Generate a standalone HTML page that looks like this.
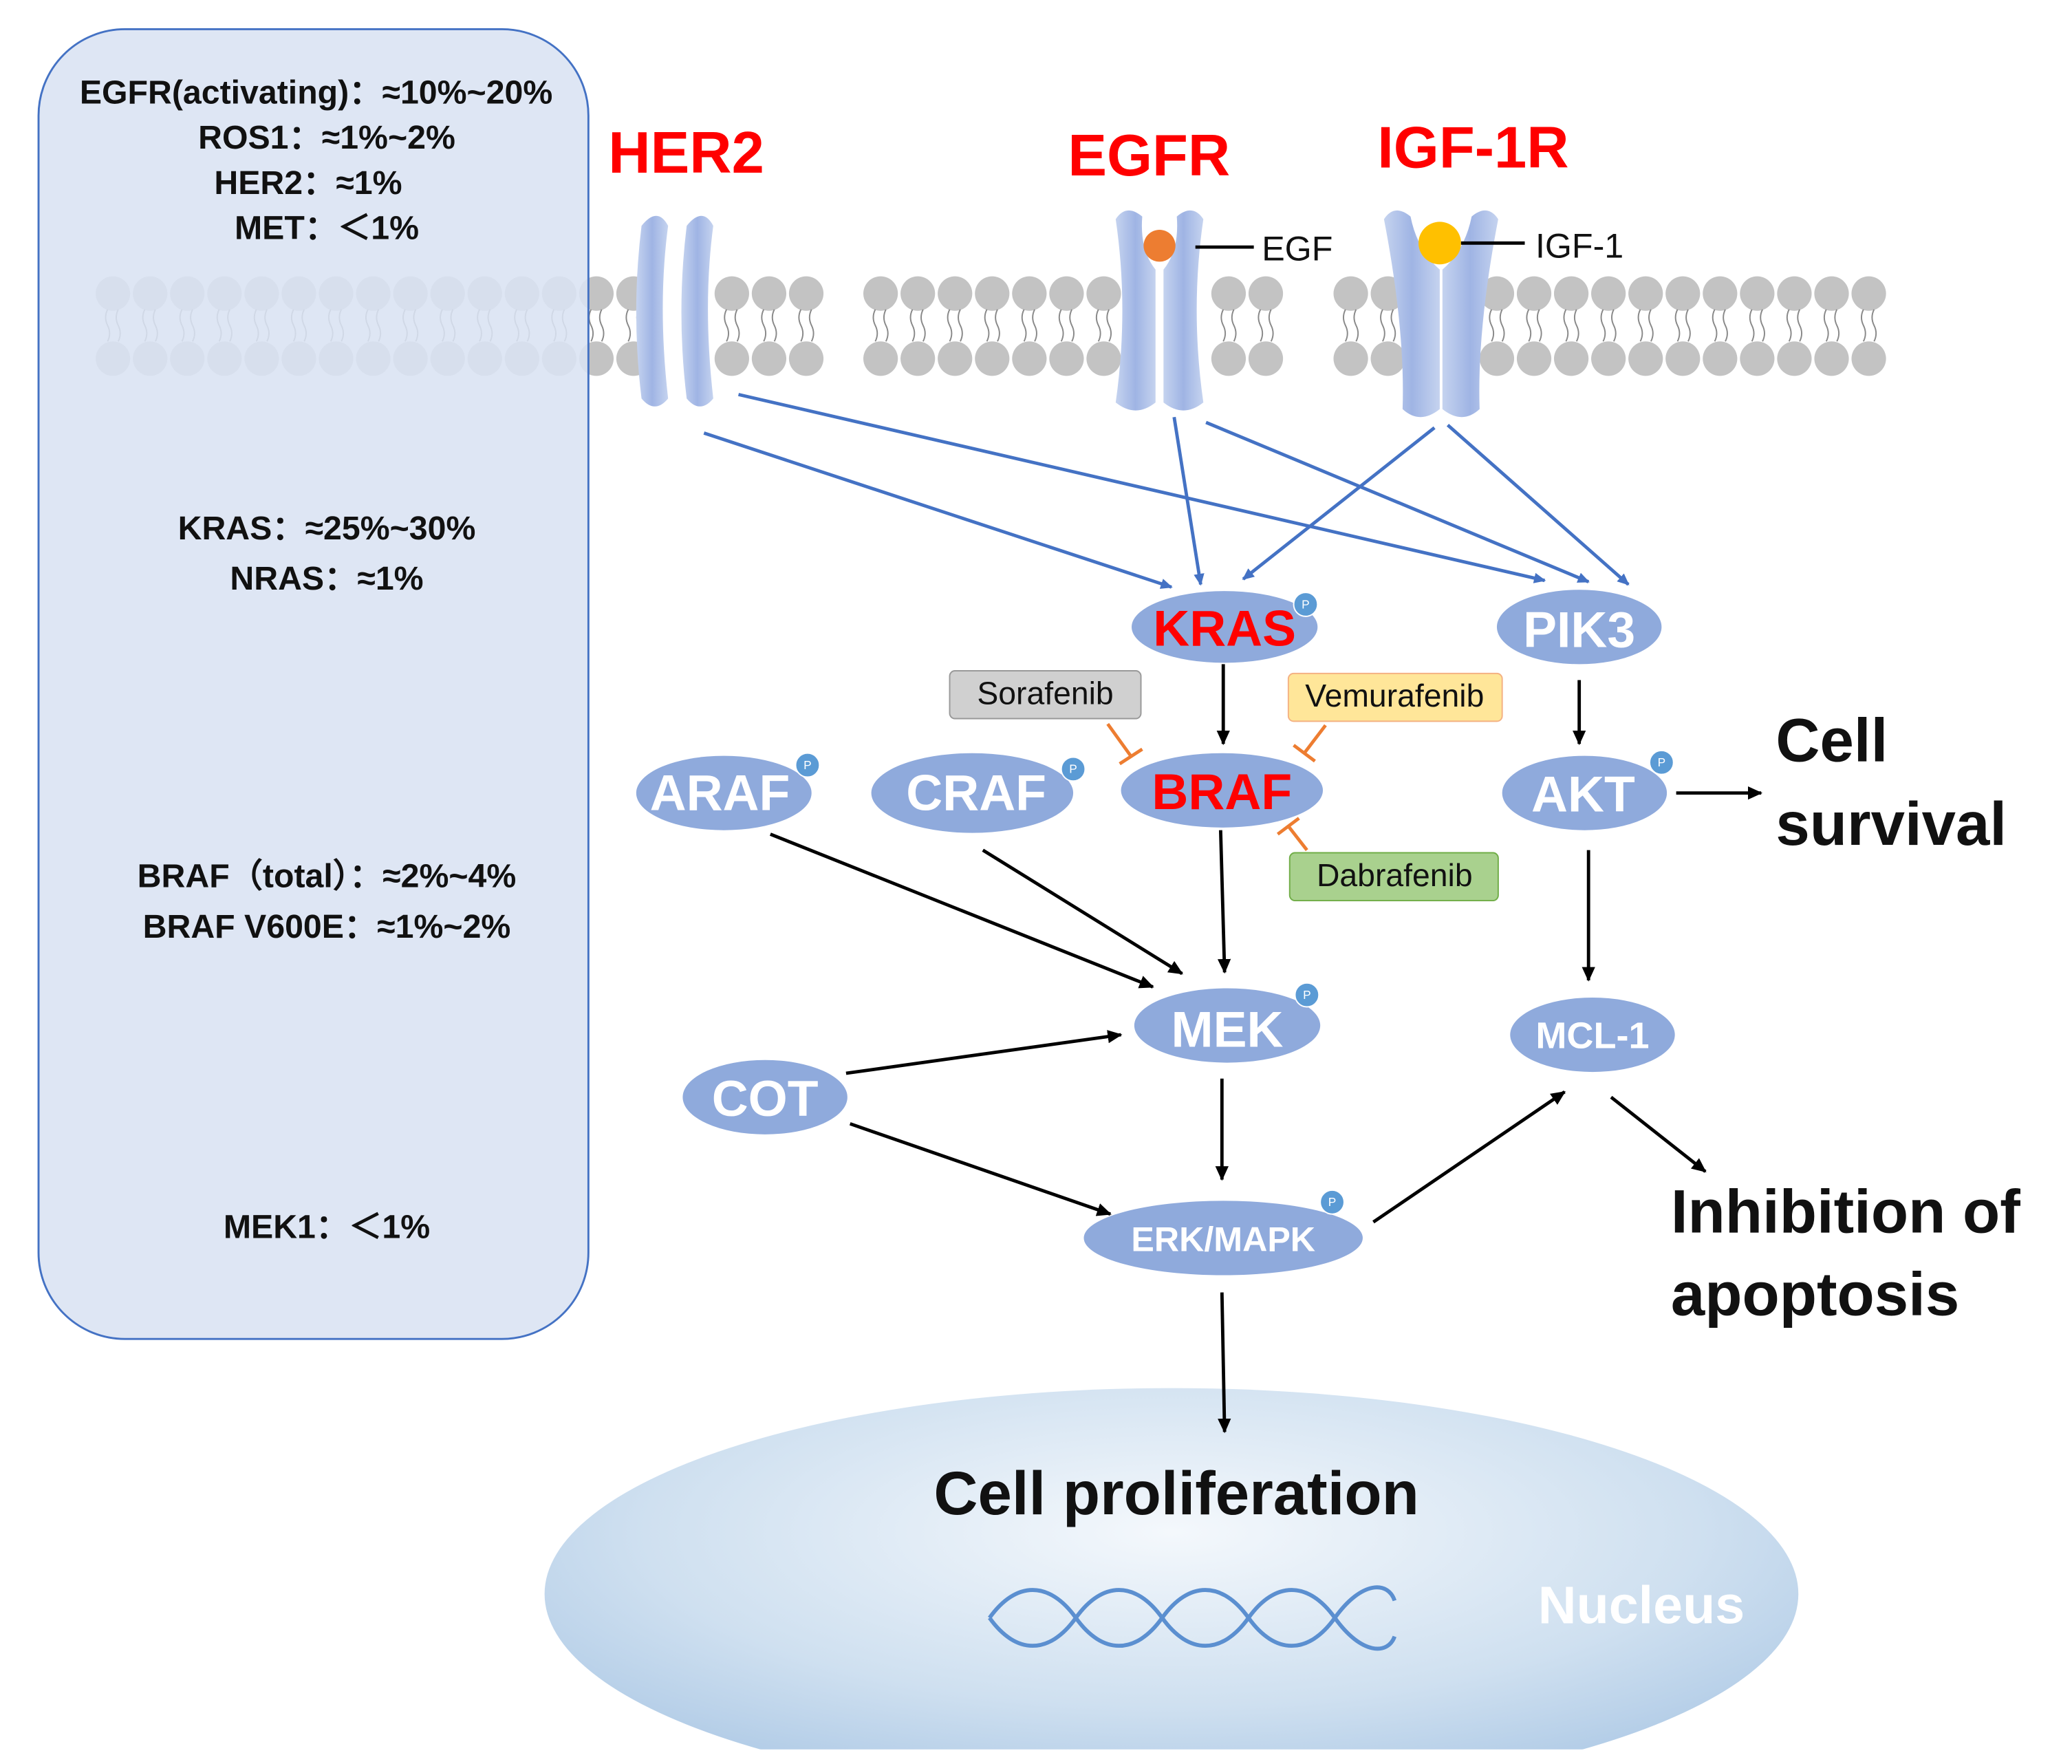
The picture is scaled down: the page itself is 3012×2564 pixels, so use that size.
<!DOCTYPE html>
<html><head><meta charset="utf-8"><style>
html,body{margin:0;padding:0;background:#fff;}
svg{display:block;}
text{font-family:"Liberation Sans","DejaVu Sans",sans-serif;}
</style></head><body>
<svg width="3012" height="2564" viewBox="0 0 1560 1328" xmlns="http://www.w3.org/2000/svg">
<defs>
<radialGradient id="nuc" cx="0.5" cy="0.35" r="0.7">
<stop offset="0" stop-color="#f4f8fc"/><stop offset="0.6" stop-color="#cfe0f0"/><stop offset="1" stop-color="#a9c6e4"/>
</radialGradient>
<linearGradient id="rec" x1="0" x2="1"><stop offset="0" stop-color="#c5d3ef"/><stop offset="0.5" stop-color="#9fb4e4"/><stop offset="1" stop-color="#c5d3ef"/></linearGradient>
<marker id="ab" markerWidth="10" markerHeight="10" refX="8" refY="5" orient="auto" markerUnits="userSpaceOnUse"><path d="M0,1 L9,5 L0,9 Z" fill="#4472c4"/></marker>
<marker id="ak" markerWidth="12" markerHeight="12" refX="10" refY="6" orient="auto" markerUnits="userSpaceOnUse"><path d="M0,1 L11,6 L0,11 Z" fill="#000"/></marker>
<g id="lipid">
<circle cx="0" cy="221" r="13" fill="#c3c3c3"/><circle cx="0" cy="270" r="13" fill="#c3c3c3"/>
<path d="M-4,233 q-3,6 0,12 q3,6 0,12 M4,233 q-3,6 0,12 q3,6 0,12" stroke="#888" stroke-width="1" fill="none"/>
</g>
</defs>

<rect x="0" y="0" width="1560" height="1328" fill="#fff"/>
<ellipse cx="882" cy="1200" rx="472" ry="155" fill="url(#nuc)"/>
<rect x="380" y="1317" width="1040" height="20" fill="#fff"/>
<path d="M745,1218 C765,1190 790,1190 810,1218 S855,1246 875,1218 S920,1190 940,1218 S985,1246 1005,1218 S1045,1190 1050,1205 M745,1218 C765,1246 790,1246 810,1218 S855,1190 875,1218 S920,1246 940,1218 S985,1190 1005,1218 S1045,1246 1050,1232" stroke="#5b8fd0" stroke-width="3" fill="none"/>
<text x="1158" y="1222" font-size="40" font-weight="bold" fill="#fff">Nucleus</text>
<text x="703" y="1140" font-size="46" font-weight="bold" fill="#111">Cell proliferation</text>

<g>
<use href="#lipid" x="85"/><use href="#lipid" x="113"/><use href="#lipid" x="141"/><use href="#lipid" x="169"/><use href="#lipid" x="197"/><use href="#lipid" x="225"/><use href="#lipid" x="253"/><use href="#lipid" x="281"/><use href="#lipid" x="309"/><use href="#lipid" x="337"/><use href="#lipid" x="365"/><use href="#lipid" x="393"/><use href="#lipid" x="421"/><use href="#lipid" x="449"/><use href="#lipid" x="477"/>
<use href="#lipid" x="551"/><use href="#lipid" x="579"/><use href="#lipid" x="607"/>
<use href="#lipid" x="663"/><use href="#lipid" x="691"/><use href="#lipid" x="719"/><use href="#lipid" x="747"/><use href="#lipid" x="775"/><use href="#lipid" x="803"/><use href="#lipid" x="831"/>
<use href="#lipid" x="925"/><use href="#lipid" x="953"/>
<use href="#lipid" x="1017"/><use href="#lipid" x="1045"/>
<use href="#lipid" x="1127"/><use href="#lipid" x="1155"/><use href="#lipid" x="1183"/><use href="#lipid" x="1211"/><use href="#lipid" x="1239"/><use href="#lipid" x="1267"/><use href="#lipid" x="1295"/><use href="#lipid" x="1323"/><use href="#lipid" x="1351"/><use href="#lipid" x="1379"/><use href="#lipid" x="1407"/>
</g>

<rect x="29" y="22" width="414" height="986" rx="65" fill="#dae3f3" fill-opacity="0.88" stroke="#4472c4" stroke-width="1.5"/>
<g font-size="25" font-weight="bold" fill="#111" text-anchor="middle">
<text x="238" y="78">EGFR(activating)：≈10%~20%</text>
<text x="246" y="112">ROS1：≈1%~2%</text>
<text x="232" y="146">HER2：≈1%</text>
<text x="246" y="180">MET：＜1%</text>
<text x="246" y="406">KRAS：≈25%~30%</text>
<text x="246" y="444">NRAS：≈1%</text>
<text x="246" y="668">BRAF（total）：≈2%~4%</text>
<text x="246" y="706">BRAF V600E：≈1%~2%</text>
<text x="246" y="932">MEK1：＜1%</text>
</g>

<g fill="url(#rec)">
<path d="M483,170 q12,-15 20,0 q-8,60 0,130 q-10,12 -20,0 q-8,-65 0,-130Z"/>
<path d="M517,170 q12,-15 20,0 q-8,60 0,130 q-10,12 -20,0 q-8,-65 0,-130Z"/>
<path d="M840,165 q8,-12 20,-2 q-2,25 10,40 l0,100 q-15,12 -30,0 q10,-70 0,-138Z"/>
<path d="M906,165 q-8,-12 -20,-2 q2,25 -10,40 l0,100 q15,12 30,0 q-10,-70 0,-138Z"/>
<path d="M1042,165 q8,-12 20,-2 q5,25 22,40 l0,105 q-15,12 -28,0 q2,-60 -14,-143Z"/>
<path d="M1128,165 q-8,-12 -20,-2 q-5,25 -22,40 l0,105 q15,12 28,0 q-2,-60 14,-143Z"/>
</g>
<circle cx="873" cy="185" r="12" fill="#ed7d31"/>
<circle cx="1084" cy="183" r="16" fill="#ffc000"/>
<line x1="900" y1="186" x2="944" y2="186" stroke="#000" stroke-width="2.5"/>
<line x1="1100" y1="183" x2="1148" y2="183" stroke="#000" stroke-width="2.5"/>
<text x="950" y="196" font-size="26" fill="#111">EGF</text>
<text x="1156" y="194" font-size="26" fill="#111">IGF-1</text>
<g font-size="44" font-weight="bold" fill="#ff0000">
<text x="458" y="130">HER2</text><text x="804" y="132">EGFR</text><text x="1037" y="126">IGF-1R</text>
</g>

<g stroke="#4472c4" stroke-width="2.5" marker-end="url(#ab)">
<line x1="530" y1="326" x2="882" y2="442"/>
<line x1="556" y1="297" x2="1163" y2="437"/>
<line x1="884" y1="314" x2="904" y2="440"/>
<line x1="908" y1="318" x2="1196" y2="438"/>
<line x1="1080" y1="322" x2="936" y2="436"/>
<line x1="1090" y1="320" x2="1226" y2="440"/>
</g>

<g stroke="#000" stroke-width="2.5" marker-end="url(#ak)">
<line x1="921" y1="500" x2="921" y2="560"/>
<line x1="1189" y1="512" x2="1189" y2="560"/>
<line x1="1262" y1="597" x2="1326" y2="597"/>
<line x1="1196" y1="640" x2="1196" y2="738"/>
<line x1="919" y1="625" x2="922" y2="732"/>
<line x1="580" y1="628" x2="868" y2="743"/>
<line x1="740" y1="640" x2="890" y2="733"/>
<line x1="637" y1="808" x2="844" y2="779"/>
<line x1="640" y1="846" x2="836" y2="914"/>
<line x1="920" y1="812" x2="920" y2="888"/>
<line x1="1034" y1="920" x2="1178" y2="822"/>
<line x1="1213" y1="826" x2="1284" y2="882"/>
<line x1="920" y1="973" x2="922" y2="1078"/>
</g>

<g fill="#8faadc">
<ellipse cx="922" cy="472" rx="70" ry="27"/>
<ellipse cx="1189" cy="472" rx="62" ry="28"/>
<ellipse cx="920" cy="595" rx="76" ry="28"/>
<ellipse cx="545" cy="597" rx="66" ry="28"/>
<ellipse cx="732" cy="597" rx="76" ry="30"/>
<ellipse cx="1193" cy="597" rx="62" ry="28"/>
<ellipse cx="924" cy="772" rx="70" ry="28"/>
<ellipse cx="1199" cy="779" rx="62" ry="28"/>
<ellipse cx="576" cy="826" rx="62" ry="28"/>
<ellipse cx="921" cy="932" rx="105" ry="28"/>
</g>
<g fill="#5b9bd5" stroke="#fff" stroke-width="1">
<circle cx="983" cy="455" r="9"/><circle cx="608" cy="576" r="9"/><circle cx="808" cy="579" r="9"/>
<circle cx="1251" cy="574" r="9"/><circle cx="984" cy="749" r="9"/><circle cx="1003" cy="905" r="9"/>
</g>
<g font-size="9" fill="#fff" text-anchor="middle">
<text x="983" y="458">P</text><text x="608" y="579">P</text><text x="808" y="582">P</text>
<text x="1251" y="577">P</text><text x="984" y="752">P</text><text x="1003" y="908">P</text>
</g>
<g font-size="38" font-weight="bold" text-anchor="middle" fill="#fff">
<text x="922" y="486" fill="#ff0000">KRAS</text>
<text x="1189" y="487">PIK3</text>
<text x="920" y="609" fill="#ff0000">BRAF</text>
<text x="542" y="610">ARAF</text>
<text x="735" y="610">CRAF</text>
<text x="1192" y="611">AKT</text>
<text x="924" y="788">MEK</text>
<text x="576" y="840">COT</text>
<text x="1199" y="789" font-size="28">MCL-1</text>
<text x="921" y="942" font-size="26">ERK/MAPK</text>
</g>

<rect x="715" y="505" width="144" height="36" rx="4" fill="#d0d0d0" stroke="#999"/>
<text x="787" y="530" font-size="24" text-anchor="middle" fill="#111">Sorafenib</text>
<rect x="970" y="507" width="161" height="36" rx="4" fill="#ffe699" stroke="#f4b183"/>
<text x="1050" y="532" font-size="24" text-anchor="middle" fill="#111">Vemurafenib</text>
<rect x="971" y="642" width="157" height="36" rx="4" fill="#a9d18e" stroke="#70ad47"/>
<text x="1050" y="667" font-size="24" text-anchor="middle" fill="#111">Dabrafenib</text>
<g stroke="#ed7d31" stroke-width="2.5">
<line x1="834" y1="545" x2="852" y2="570"/><line x1="843" y1="575" x2="860" y2="564"/>
<line x1="998" y1="546" x2="982" y2="567"/><line x1="974" y1="561" x2="990" y2="573"/>
<line x1="984" y1="640" x2="970" y2="622"/><line x1="962" y1="628" x2="978" y2="616"/>
</g>

<g font-size="46" font-weight="bold" fill="#111">
<text x="1337" y="573">Cell</text>
<text x="1337" y="636">survival</text>
<text x="1258" y="928">Inhibition of</text>
<text x="1258" y="990">apoptosis</text>
</g>
</svg>
</body></html>
